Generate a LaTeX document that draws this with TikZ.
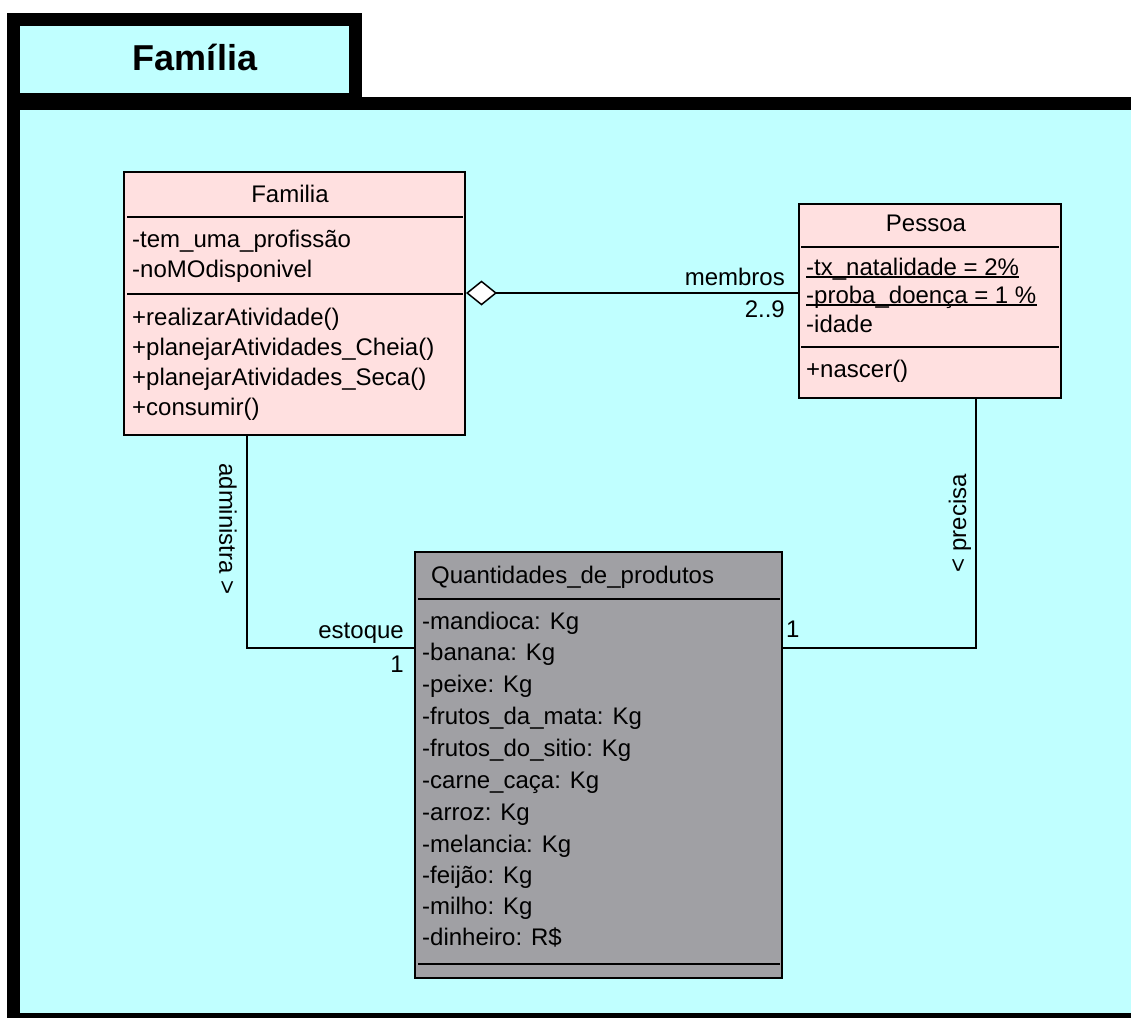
\documentclass[tikz,border=0pt]{standalone}
\usepackage{fontspec}
\setmainfont{Liberation Sans}
\usetikzlibrary{arrows.meta,calc}
\definecolor{pkgcyan}{RGB}{192,255,255}
\definecolor{clspink}{RGB}{255,224,224}
\definecolor{clsgray}{RGB}{160,160,164}
\begin{document}
\begin{tikzpicture}[x=1pt,y=-1pt,
  txt/.style={anchor=base west,inner sep=0pt,font=\fontsize{24}{28}\selectfont},
  rtxt/.style={anchor=base east,inner sep=0pt,font=\fontsize{24}{28}\selectfont},
  ctxt/.style={anchor=base,inner sep=0pt,font=\fontsize{24}{28}\selectfont},
  rotl/.style={inner sep=0pt,font=\fontsize{24}{28}\selectfont},
  cls/.style={draw,line width=2pt,anchor=north west,inner sep=0pt,rectangle},
  sepline/.style={line width=2pt},
  conn/.style={line width=2pt},
  pkgline/.style={line width=13pt,fill=pkgcyan}
]
\useasboundingbox (0,0) rectangle (1131,1017);
\clip (0,0) rectangle (1131,1017);
% package
\draw[pkgline] (13.5,19) rectangle (355.5,99.5);
\draw[pkgline] (13.5,103.5) rectangle (1145,1019.5);
\node[anchor=base,inner sep=0pt,font=\bfseries\fontsize{36}{40}\selectfont] (pkgtitle) at (195,70) {Família};

% class Familia
\node[cls,fill=clspink,minimum width=341pt,minimum height=263pt] (fam) at (123,171) {};
\draw[sepline] ([xshift=4pt,yshift=-46pt]fam.north west) -- ([xshift=-3pt,yshift=-46pt]fam.north east);
\draw[sepline] ([xshift=4pt,yshift=-123pt]fam.north west) -- ([xshift=-3pt,yshift=-123pt]fam.north east);
\node[ctxt] (famname) at (290,202) {Familia};
\node[txt] (fa1) at (132,247) {-tem\_uma\_profissão};
\node[txt] (fa2) at (132,277) {-noMOdisponivel};
\node[txt] (fm1) at (132,325) {+realizarAtividade()};
\node[txt] (fm2) at (132,355) {+planejarAtividades\_Cheia()};
\node[txt] (fm3) at (132,385) {+planejarAtividades\_Seca()};
\node[txt] (fm4) at (132,415) {+consumir()};

% class Pessoa
\node[cls,fill=clspink,minimum width=262pt,minimum height=194pt] (pes) at (798,203) {};
\draw[sepline] ([xshift=3pt,yshift=-44pt]pes.north west) -- ([xshift=-3pt,yshift=-44pt]pes.north east);
\draw[sepline,line width=1.2pt] ([xshift=3pt,yshift=-144pt]pes.north west) -- ([xshift=-3pt,yshift=-144pt]pes.north east);
\node[ctxt] (pesname) at (926,231) {Pessoa};
\node[txt] (pa1) at (806,275) {-tx\_natalidade = 2\%};
\node[txt] (pa2) at (806,303) {-proba\_doença = 1 \%};
\node[txt] (pa3) at (806,332) {-idade};
\node[txt] (pm1) at (806,377) {+nascer()};
\draw[line width=1.5pt] ([yshift=-2pt]pa1.base west) -- ([yshift=-2pt]pa1.base east);
\draw[line width=1.5pt] ([yshift=-2pt]pa2.base west) -- ([yshift=-2pt]pa2.base east);

% class Quantidades_de_produtos
\node[cls,fill=clsgray,minimum width=367pt,minimum height=426pt] (qty) at (414,551) {};
\draw[sepline] ([xshift=4pt,yshift=-48pt]qty.north west) -- ([xshift=-3pt,yshift=-48pt]qty.north east);
\draw[sepline] ([xshift=4pt,yshift=-413pt]qty.north west) -- ([xshift=-3pt,yshift=-413pt]qty.north east);
\node[txt] (qtyname) at (431,583) {Quantidades\_de\_produtos};
\node[txt] (q1) at (422,629) {-mandioca: Kg};
\node[txt] (q2) at (422,660) {-banana: Kg};
\node[txt] (q3) at (422,692) {-peixe: Kg};
\node[txt] (q4) at (422,724) {-frutos\_da\_mata: Kg};
\node[txt] (q5) at (422,756) {-frutos\_do\_sitio: Kg};
\node[txt] (q6) at (422,788) {-carne\_caça: Kg};
\node[txt] (q7) at (422,820) {-arroz: Kg};
\node[txt] (q8) at (422,852) {-melancia: Kg};
\node[txt] (q9) at (422,883) {-feijão: Kg};
\node[txt] (q10) at (422,914) {-milho: Kg};
\node[txt] (q11) at (422,945) {-dinheiro: R\$};

% connectors
\draw[conn,{Diamond[fill=white,length=31pt,width=25pt,line width=1.5pt]}-] ([yshift=10.5pt]fam.east) -- ([yshift=8pt]pes.west);
\draw[conn] ([xshift=-47.5pt]fam.south) |- ([yshift=117pt]qty.west);
\draw[conn] ([xshift=46pt]pes.south) |- ([yshift=117pt]qty.east);

% connector labels
\node[rtxt] (lmem) at (785,285) {membros};
\node[rtxt] (lmul) at (785,317) {2..9};
\node[rotl,rotate=-90] (ladm) at (228,529) {administra >};
\node[rotl,rotate=90] (lprec) at (960,523) {< precisa};
\node[rtxt] (lest) at (404,638) {estoque};
\node[rtxt] (lone) at (404,672) {1};
\node[txt] (ltwo) at (786,637) {1};
\end{tikzpicture}
\end{document}
